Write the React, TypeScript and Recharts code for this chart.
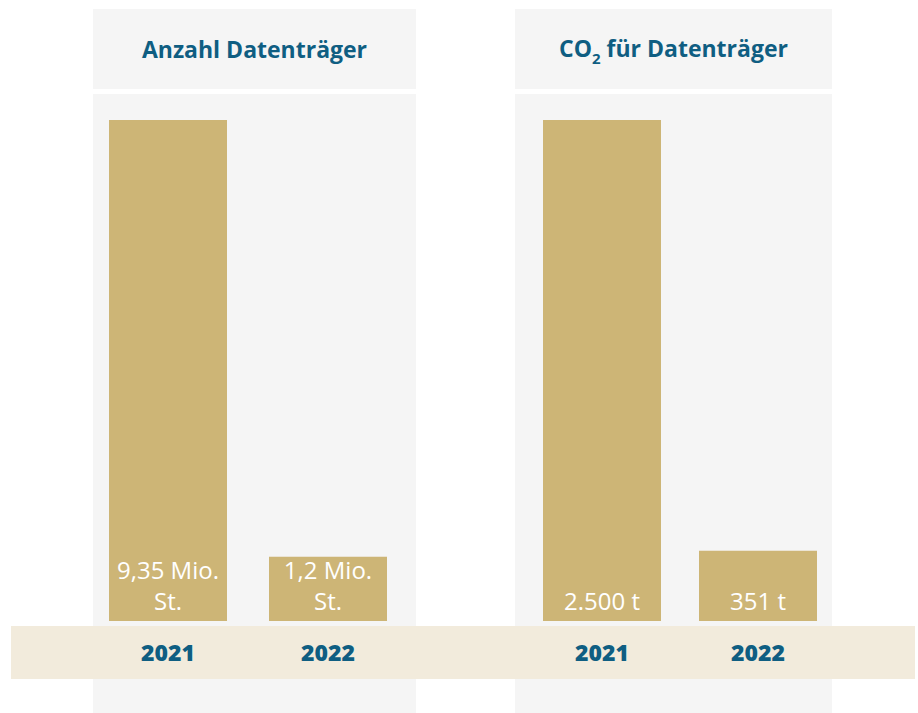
import React from 'react';
import { BarChart, Bar, XAxis, YAxis, LabelList } from 'recharts';

const categories = ['2021', '2022'];
const countValues = [9.35, 1.2];
const countLabels = [['9,35 Mio.', 'St.'], ['1,2 Mio.', 'St.']];
const co2Values = [2500, 351];
const co2Labels = [['2.500 t'], ['351 t']];

const BAR = '#cdb576';
const BAND = '#f2ebdc';
const GRAY = '#f5f5f5';
const BLUE = '#0f5e82';
const FONT = "'Open Sans', sans-serif";

const countData = categories.map((c, i) => ({ year: c, value: countValues[i], lines: countLabels[i] }));
const co2Data = categories.map((c, i) => ({ year: c, value: co2Values[i], lines: co2Labels[i] }));

const YearTick = (props: any) => {
  const { x, y, payload } = props;
  return (
    <text x={x} y={y + 40} textAnchor="middle" fill={BLUE} fontFamily={FONT} fontWeight={800} fontSize={23}>
      {payload.value}
    </text>
  );
};

const makeLabel = (data: any[]) => (props: any) => {
  const { x, y, width, height, index } = props;
  const lines: string[] = data[index].lines;
  const cx = x + width / 2;
  const lastBase = y + height - 11;
  return (
    <g>
      {lines.map((l, i) => (
        <text
          key={i}
          x={cx}
          y={lastBase - (lines.length - 1 - i) * 31}
          textAnchor="middle"
          fill="#ffffff"
          fontFamily={FONT}
          fontSize={24}
        >
          {l}
        </text>
      ))}
    </g>
  );
};

const Panel = ({ left, width, title }: { left: number; width: number; title: React.ReactNode }) => (
  <>
    <div
      style={{
        position: 'absolute',
        left,
        top: 9,
        width,
        height: 80,
        background: GRAY,
        display: 'flex',
        alignItems: 'center',
        justifyContent: 'center',
        color: BLUE,
        fontFamily: FONT,
        fontWeight: 700,
        fontSize: 23,
        lineHeight: '30px',
      }}
    >
      {title}
    </div>
    <div style={{ position: 'absolute', left, top: 94, width, height: 619, background: GRAY }} />
  </>
);

const SmallChart = ({ data, left, width, max }: { data: any[]; left: number; width: number; max: number }) => (
  <div style={{ position: 'absolute', left, top: 120 }}>
    <BarChart width={width} height={561} data={data} margin={{ top: 0, right: 0, bottom: 0, left: 0 }}>
      <XAxis
        dataKey="year"
        axisLine={false}
        tickLine={false}
        tickSize={0}
        tickMargin={0}
        height={60}
        interval={0}
        tick={YearTick}
      />
      <YAxis hide domain={[0, max]} allowDataOverflow />
      <Bar dataKey="value" fill={BAR} barSize={118} isAnimationActive={false}>
        <LabelList dataKey="value" content={makeLabel(data)} />
      </Bar>
    </BarChart>
  </div>
);

export default function App() {
  return (
    <div style={{ position: 'absolute', left: 0, top: 0, width: 918, height: 713, background: '#ffffff', overflow: 'hidden' }}>
      <Panel left={93} width={323} title={<span>Anzahl Datenträger</span>} />
      <Panel
        left={515}
        width={317}
        title={
          <span>
            CO<span style={{ fontSize: 15, position: 'relative', top: 7 }}>2</span> für Datenträger
          </span>
        }
      />
      <div style={{ position: 'absolute', left: 11, top: 626, width: 904, height: 53, background: BAND }} />
      <SmallChart data={countData} left={88} width={320} max={Math.max(...countValues)} />
      <SmallChart data={co2Data} left={524} width={312} max={Math.max(...co2Values)} />
    </div>
  );
}
